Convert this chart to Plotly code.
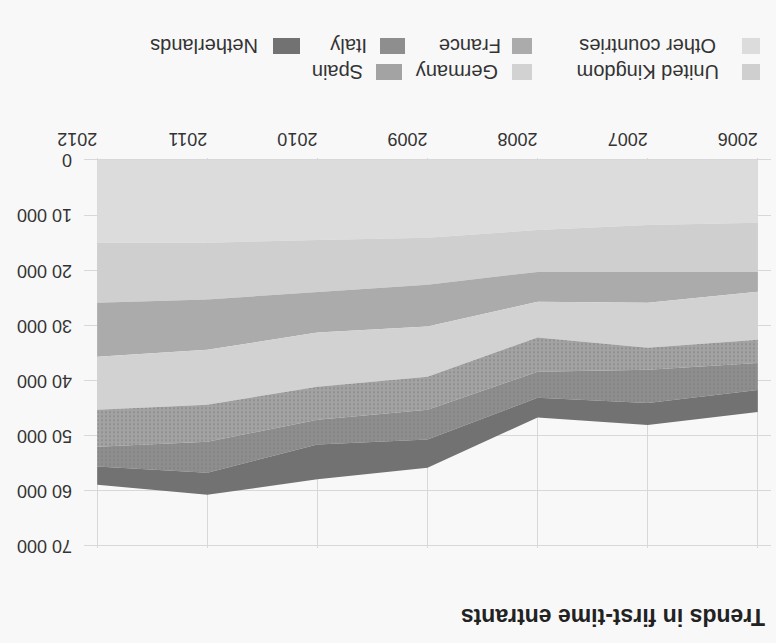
import plotly.graph_objects as go

W, H = 776, 643

years = [2006, 2007, 2008, 2009, 2010, 2011, 2012]
series_names = ["Other countries", "United Kingdom", "France", "Germany",
                "Spain", "Italy", "Netherlands"]
other_countries = [11400, 11800, 12700, 14100, 14500, 15000, 15000]
united_kingdom = [8900, 8500, 7600, 8500, 9400, 10300, 10900]
france = [3600, 5600, 5400, 7600, 7400, 9100, 9800]
germany = [8700, 8150, 6500, 9100, 9800, 10000, 9600]
spain = [4200, 4000, 6200, 6000, 6000, 6700, 6700]
italy = [4900, 6000, 4700, 5400, 4500, 5600, 3600]
netherlands = [4000, 4000, 3600, 5100, 6300, 4000, 3300]

y_tickvals = [0, 10000, 20000, 30000, 40000, 50000, 60000, 70000]
y_ticktext = ["0", "10 000", "20 000", "30 000", "40 000", "50 000", "60 000", "70 000"]
x_tickvals = years
x_ticktext = [str(y) for y in years]
title_text = "Trends in first-time entrants"

values = [other_countries, united_kingdom, france, germany, spain, italy, netherlands]
colors = ["#dcdcdc", "#cfcfcf", "#ababab", "#d2d2d2", "#a3a3a3", "#8e8e8e", "#727272"]
patterns = [None, None, None, None, ".", ".", None]


def px_x(x):
    return x / W


def px_y(y):
    return 1 - y / H


Y_TOP_PX, Y_BOT_PX = 160, 546
VAL_PER_PX = 70000 / (Y_BOT_PX - Y_TOP_PX)
PAD = 300  # small range padding so the 0 and 70000 grid lines are drawn
pad_px = PAD / VAL_PER_PX

fig = go.Figure()
for name, vals, col, pat in zip(series_names, values, colors, patterns):
    kw = {}
    if pat:
        kw["fillpattern"] = dict(shape=pat, fgcolor="#7a7a7a", bgcolor=col,
                                 size=4, solidity=0.25)
    fig.add_trace(go.Scatter(
        x=years, y=vals, name=name, stackgroup="one", mode="lines",
        line=dict(width=0, color=col), fillcolor=col, showlegend=False, **kw))

# invisible helper trace so the label axis (y2) is drawn
fig.add_trace(go.Scatter(x=[years[0]], y=[y_tickvals[0]], yaxis="y2", mode="markers",
                         marker=dict(opacity=0), hoverinfo="skip", showlegend=False))

fig.update_layout(
    width=W, height=H,
    margin=dict(l=0, r=0, t=0, b=0, autoexpand=False),
    paper_bgcolor="#f8f8f8", plot_bgcolor="#f8f8f8",
    font=dict(family="Liberation Sans, Arial, sans-serif", size=18, color="#333333"),
    xaxis=dict(
        domain=[px_x(84), px_x(771)],
        range=[2012.12, 2005.88], automargin=False,
        side="top", tickvals=x_tickvals, ticktext=x_ticktext, tickangle=180,
        showgrid=True, gridcolor="#d8d8d8", gridwidth=1, zeroline=False,
        showline=False, ticks="", ticklabelstandoff=3,
    ),
    yaxis=dict(
        domain=[px_y(Y_BOT_PX + pad_px), px_y(Y_TOP_PX - pad_px)],
        range=[70000 + PAD, -PAD], automargin=False,
        tickvals=y_tickvals, showticklabels=False,
        showgrid=True, gridcolor="#d8d8d8", gridwidth=1, zeroline=False,
        showline=False, ticks="",
    ),
    yaxis2=dict(
        overlaying="y", side="right", anchor="free", position=px_x(71),
        range=[70000 + PAD, -PAD], automargin=False,
        tickvals=y_tickvals, ticktext=y_ticktext, tickangle=180,
        ticklabelshift=-6,
        showgrid=False, zeroline=False, showline=False, ticks="",
    ),
    showlegend=False,
)

annotations = [
    dict(text="<b>" + title_text + "</b>", x=px_x(613), y=px_y(617),
         xref="paper", yref="paper", showarrow=False, textangle=180,
         font=dict(size=23, color="#222222"), xanchor="center", yanchor="middle"),
]

# legend (rotated 180°): (label, text center x, row y, swatch x0, swatch x1)
legend_items = [
    ("Other countries", 648, 46, 742, 760),
    ("France", 470, 46, 512, 532),
    ("Italy", 349, 46, 380, 405),
    ("Netherlands", 204, 46, 273, 300),
    ("United Kingdom", 648, 72, 742, 760),
    ("Germany", 457, 72, 512, 532),
    ("Spain", 338, 72, 376, 402),
]
shapes = []
for label, cx, cy, sx0, sx1 in legend_items:
    col = colors[series_names.index(label)]
    annotations.append(dict(text=label, x=px_x(cx), y=px_y(cy), xref="paper", yref="paper",
                            showarrow=False, textangle=180, xanchor="center", yanchor="middle",
                            font=dict(size=20, color="#333333")))
    shapes.append(dict(type="rect", xref="paper", yref="paper",
                       x0=px_x(sx0), x1=px_x(sx1), y0=px_y(cy - 8), y1=px_y(cy + 8),
                       fillcolor=col, line=dict(width=0)))

fig.update_layout(annotations=annotations, shapes=shapes)
fig.write_html("out.html", config={"displayModeBar": False},
               post_script="document.body.style.margin='0';document.body.style.overflow='hidden';")
